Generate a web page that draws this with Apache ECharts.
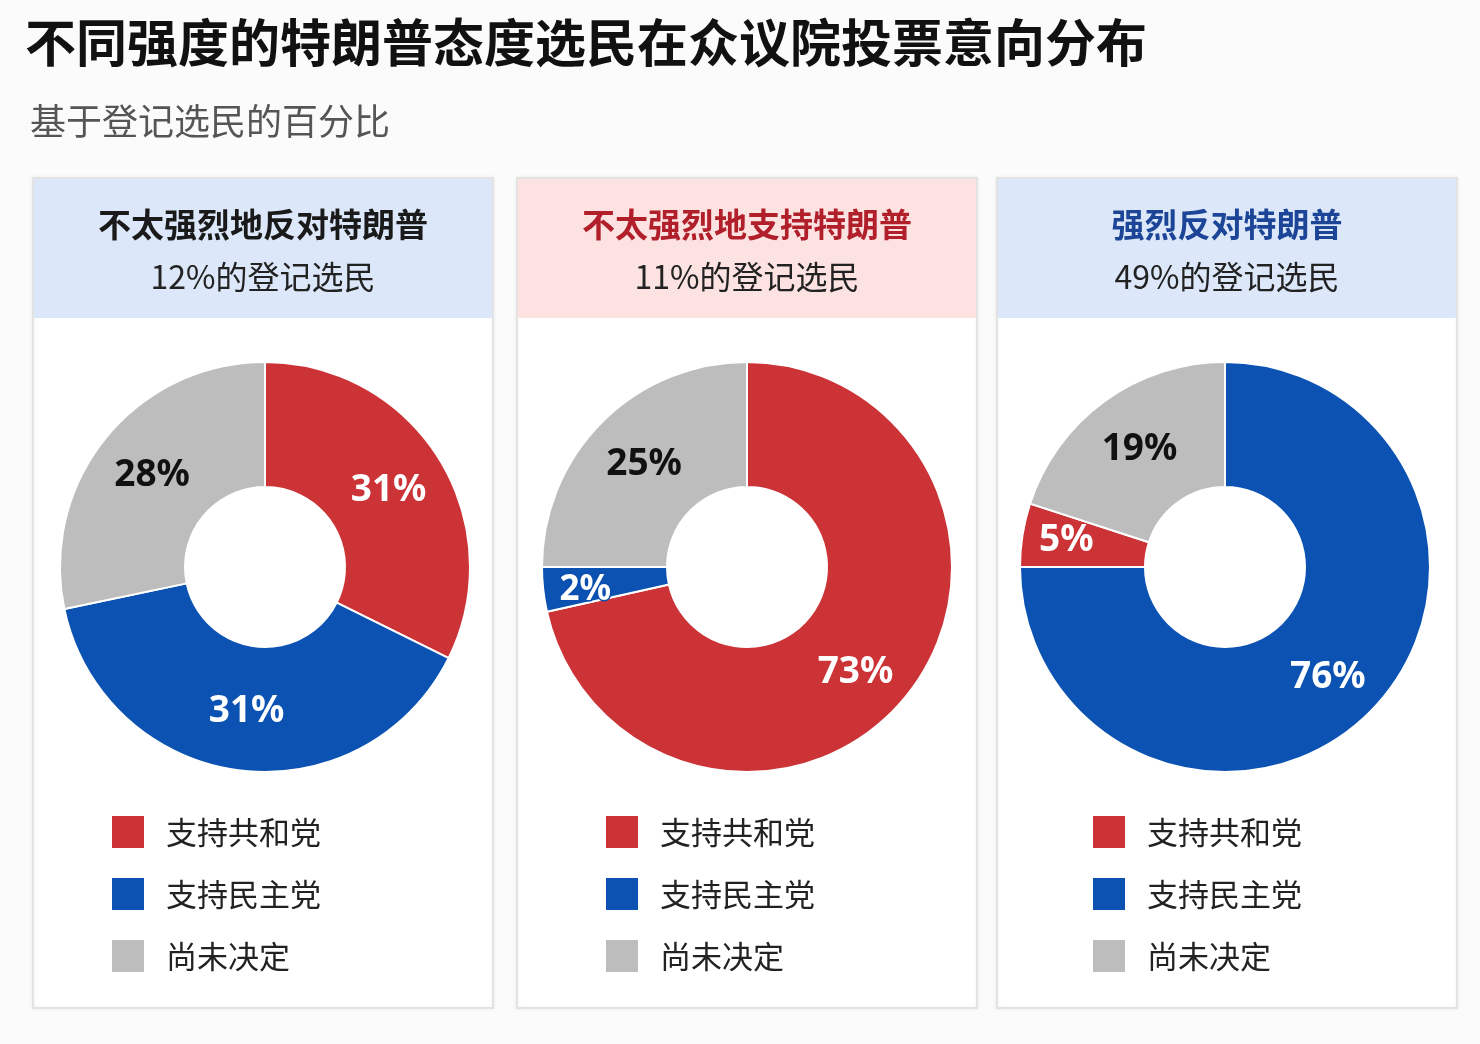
<!DOCTYPE html>
<html>
<head>
<meta charset="utf-8">
<script src="https://cdn.jsdelivr.net/npm/echarts@6/dist/echarts.min.js"></script>
<style>
html,body{margin:0;padding:0;background:#fbfbfb;}
#chart{width:1480px;height:1044px;}
</style>
</head>
<body>
<div id="chart"></div>
<script>
// ---- data ----
const mainTitle = '不同强度的特朗普态度选民在众议院投票意向分布';
const subTitle = '基于登记选民的百分比';
const groups = ['不太强烈地反对特朗普', '不太强烈地支持特朗普', '强烈反对特朗普'];
const groupShareOfVoters = [12, 11, 49];
const categories = ['支持共和党', '支持民主党', '尚未决定'];
// printed label values per panel (order: 共和党, 民主党, 尚未决定)
const labelsWeakOppose = [31, 31, 28];
const labelsWeakSupport = [73, 2, 25];
const labelsStrongOppose = [5, 76, 19];
// slice sizes as drawn in the picture (measured arc shares, they differ a little from the printed labels)
const arcsWeakOppose = [32, 39, 28];
const arcsWeakSupport = [71.5, 3.5, 25];
const arcsStrongOppose = [5, 75, 20];
// clockwise slice order from 12 o'clock, by category index
const orderWeakOppose = [0, 1, 2];
const orderWeakSupport = [0, 1, 2];
const orderStrongOppose = [1, 0, 2];

// ---- styles ----
const CJK = '"Noto Sans CJK SC", "Noto Sans", sans-serif';
const colors = ['#cc3337', '#0b52b3', '#bdbdbd'];
const labelColors = ['#ffffff', '#ffffff', '#111111'];
const headerBg = ['#dce8f9', '#fde2e2', '#dce8f9'];
const headerColor = ['#1a1a1a', '#b01f2a', '#1c4597'];
const panelX = [33, 517, 997];
const panelW = 460;
const centersX = [265, 747, 1225];
const legendX = [105, 599, 1086];
// small label nudges [panel][category]
const labelOffsets = [
  [null, null, null],
  [[-5, 14], [-17, 7], null],
  [[-15, -4], [0, 8], null]
];

const arcs = [arcsWeakOppose, arcsWeakSupport, arcsStrongOppose];
const labels = [labelsWeakOppose, labelsWeakSupport, labelsStrongOppose];
const orders = [orderWeakOppose, orderWeakSupport, orderStrongOppose];

const chart = echarts.init(document.getElementById('chart'));

const graphic = [];
const titles = [
  { text: mainTitle, left: 20, top: 12,
    textStyle: { fontFamily: CJK, fontSize: 51, fontWeight: 'bold', color: '#111' } },
  { text: subTitle, left: 25, top: 98,
    textStyle: { fontFamily: CJK, fontSize: 36, fontWeight: 'normal', color: '#555' } }
];
const legends = [];
const series = [];

groups.forEach((g, i) => {
  graphic.push({
    type: 'rect', z: -10,
    shape: { x: panelX[i], y: 178, width: panelW, height: 830 },
    style: { fill: '#ffffff', stroke: '#e3e3e3', lineWidth: 2,
             shadowBlur: 4, shadowColor: 'rgba(0,0,0,0.06)' }
  });
  graphic.push({
    type: 'rect', z: -9,
    shape: { x: panelX[i] + 1, y: 179, width: panelW - 2, height: 139 },
    style: { fill: headerBg[i] }
  });
  titles.push({
    text: g,
    subtext: groupShareOfVoters[i] + '%的登记选民',
    left: panelX[i] + panelW / 2 - 5, top: 199, textAlign: 'center',
    itemGap: 14,
    textStyle: { fontFamily: CJK, fontSize: 33, fontWeight: 'bold', color: headerColor[i], lineHeight: 40 },
    subtextStyle: { fontFamily: CJK, fontSize: 32, color: '#222', lineHeight: 38 }
  });
  legends.push({
    data: categories.slice(),
    orient: 'vertical', left: legendX[i], top: 809,
    icon: 'rect', itemWidth: 34, itemHeight: 34, itemGap: 26,
    selectedMode: false,
    textStyle: { fontFamily: CJK, fontSize: 31, color: '#222', padding: [0, 0, 0, 16] }
  });
  series.push({
    type: 'pie',
    center: [centersX[i], 567],
    radius: [80, 205],
    startAngle: 90,
    clockwise: true,
    avoidLabelOverlap: false,
    silent: true,
    itemStyle: { borderColor: '#ffffff', borderWidth: 2 },
    label: { show: true, position: 'inside', fontFamily: '"Noto Sans", "Open Sans", sans-serif',
             fontSize: 37, fontWeight: 'bold' },
    labelLine: { show: false },
    data: orders[i].map(c => {
      const item = {
        name: categories[c],
        value: arcs[i][c],
        itemStyle: { color: colors[c] },
        label: { formatter: labels[i][c] + '%', color: labelColors[c] }
      };
      if (labelOffsets[i][c]) item.label.offset = labelOffsets[i][c];
      if (i === 1 && c === 1) {
        item.label.textBorderColor = '#0b4fb0';
        item.label.textBorderWidth = 3;
        item.label.fontSize = 35;
      }
      return item;
    })
  });
});

chart.setOption({
  backgroundColor: '#fbfbfb',
  animation: false,
  title: titles,
  graphic: graphic,
  legend: legends,
  series: series
});
</script>
</body>
</html>
